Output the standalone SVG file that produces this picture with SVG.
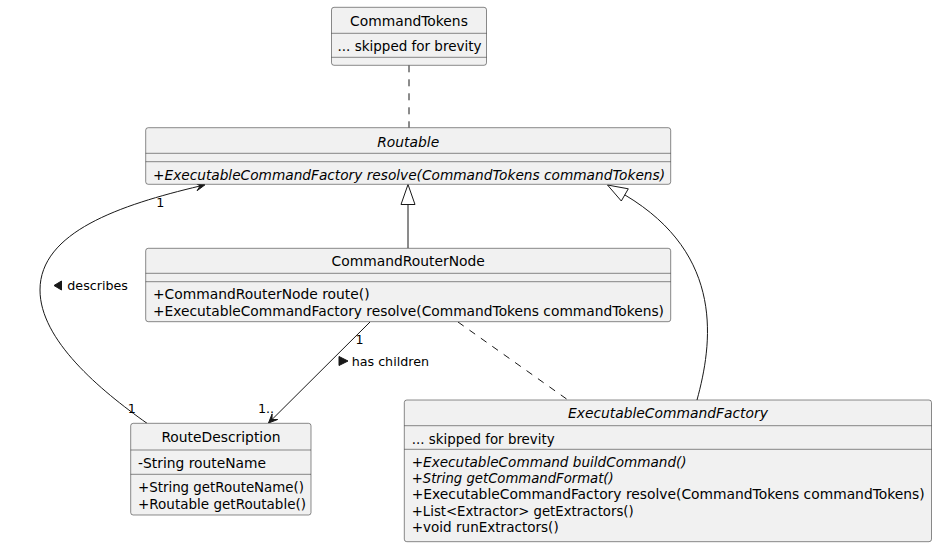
<svg xmlns="http://www.w3.org/2000/svg" width="935" height="546" viewBox="0 0 935 546">
<style>
.box{fill:#F1F1F1;stroke:#181818;stroke-width:0.5}
.dv{stroke:#181818;stroke-width:0.5}
.t{font-family:"DejaVu Sans",sans-serif;font-size:13.85px;fill:#000}
.i{font-style:italic}
.c{text-anchor:middle}
.lbl{font-family:"DejaVu Sans",sans-serif;font-size:12.7px;fill:#000}
.ln{fill:none;stroke:#181818;stroke-width:1}
.dash{stroke-dasharray:7,7}
.hollow{fill:none;stroke:#181818;stroke-width:1}
.solid{fill:#181818;stroke:#181818;stroke-width:1}
</style>
<rect width="935" height="546" fill="#FFFFFF"/>
<g id="connectors">
  <path class="ln dash" d="M409,65.3 L409,127.7"/>
  <path class="ln" d="M408,204.5 L408,248.3"/>
  <polygon class="hollow" points="408,184.5 401,204.5 415,204.5"/>
  <path class="ln" d="M697,400 C712,345 726,255 624.8,194.9"/>
  <polygon class="hollow" points="607.5,185 621.3,201 628.3,188.8"/>
  <path class="ln" d="M370,322 L272,419.5"/>
  <polygon class="solid" points="268.5,423 277.7,419.5 272,419.5 272.1,413.9"/>
  <path class="ln" d="M147,423.3 C100,390 40,340 40,290 C40,232 120,205 200,186"/>
  <polygon class="solid" points="205,184.8 195.3,182.9 200.1,185.9 197.1,190.7"/>
  <path class="ln dash" d="M458,322 L568,400"/>
  <text class="lbl" x="156.2" y="207">1</text>
  <polygon class="solid" points="54,285.5 61.5,281 61.5,290"/>
  <text class="lbl" x="67.3" y="290">describes</text>
  <text class="lbl" x="127.8" y="412.8">1</text>
  <text class="lbl" x="355.4" y="343.8">1</text>
  <polygon class="solid" points="339,356.5 348,361 339,365.5"/>
  <text class="lbl" x="351.7" y="365.5">has children</text>
  <text class="lbl" x="258" y="413.2">1..</text>
</g>
<g id="CommandTokens">
  <rect class="box" x="331.5" y="7.3" width="155" height="58" rx="2.5"/>
  <line class="dv" x1="331.5" y1="33.3" x2="486.5" y2="33.3"/>
  <line class="dv" x1="331.5" y1="57.3" x2="486.5" y2="57.3"/>
  <text class="t c" x="409" y="25.7">CommandTokens</text>
  <text class="t" x="337.5" y="51.3" textLength="144" lengthAdjust="spacingAndGlyphs">... skipped for brevity</text>
</g>
<g id="Routable">
  <rect class="box" x="145.7" y="127.7" width="525" height="56.6" rx="2.5"/>
  <line class="dv" x1="145.7" y1="153.3" x2="670.7" y2="153.3"/>
  <line class="dv" x1="145.7" y1="161.7" x2="670.7" y2="161.7"/>
  <text class="t c i" x="408.2" y="146.5">Routable</text>
  <text class="t i" x="153" y="179.8" textLength="512" lengthAdjust="spacingAndGlyphs">+ExecutableCommandFactory resolve(CommandTokens commandTokens)</text>
</g>
<g id="CommandRouterNode">
  <rect class="box" x="145.7" y="248.3" width="525" height="73.4" rx="2.5"/>
  <line class="dv" x1="145.7" y1="273.3" x2="670.7" y2="273.3"/>
  <line class="dv" x1="145.7" y1="281.7" x2="670.7" y2="281.7"/>
  <text class="t c" x="408.2" y="266">CommandRouterNode</text>
  <text class="t" x="153" y="299">+CommandRouterNode route()</text>
  <text class="t" x="153" y="315.5" textLength="511" lengthAdjust="spacingAndGlyphs">+ExecutableCommandFactory resolve(CommandTokens commandTokens)</text>
</g>
<g id="RouteDescription">
  <rect class="box" x="130.7" y="423.3" width="180.3" height="91.7" rx="2.5"/>
  <line class="dv" x1="130.7" y1="450" x2="311" y2="450"/>
  <line class="dv" x1="130.7" y1="474.3" x2="311" y2="474.3"/>
  <text class="t c" x="220.9" y="442.3">RouteDescription</text>
  <text class="t" x="138" y="468.3" textLength="128" lengthAdjust="spacingAndGlyphs">-String routeName</text>
  <text class="t" x="138" y="492.3" textLength="166" lengthAdjust="spacingAndGlyphs">+String getRouteName()</text>
  <text class="t" x="138" y="508.8" textLength="168" lengthAdjust="spacingAndGlyphs">+Routable getRoutable()</text>
</g>
<g id="ExecutableCommandFactory">
  <rect class="box" x="404.3" y="400" width="527.2" height="141.7" rx="2.5"/>
  <line class="dv" x1="404.3" y1="425.7" x2="931.5" y2="425.7"/>
  <line class="dv" x1="404.3" y1="449.3" x2="931.5" y2="449.3"/>
  <text class="t c i" x="667.9" y="418.3">ExecutableCommandFactory</text>
  <text class="t" x="411.7" y="444.3" textLength="143" lengthAdjust="spacingAndGlyphs">... skipped for brevity</text>
  <text class="t i" x="411.7" y="467" textLength="275" lengthAdjust="spacingAndGlyphs">+ExecutableCommand buildCommand()</text>
  <text class="t i" x="411.7" y="483.2" textLength="202" lengthAdjust="spacingAndGlyphs">+String getCommandFormat()</text>
  <text class="t" x="411.7" y="499.4" textLength="513" lengthAdjust="spacingAndGlyphs">+ExecutableCommandFactory resolve(CommandTokens commandTokens)</text>
  <text class="t" x="411.7" y="515.6" textLength="222" lengthAdjust="spacingAndGlyphs">+List&lt;Extractor&gt; getExtractors()</text>
  <text class="t" x="411.7" y="531.8" textLength="147" lengthAdjust="spacingAndGlyphs">+void runExtractors()</text>
</g>
</svg>
